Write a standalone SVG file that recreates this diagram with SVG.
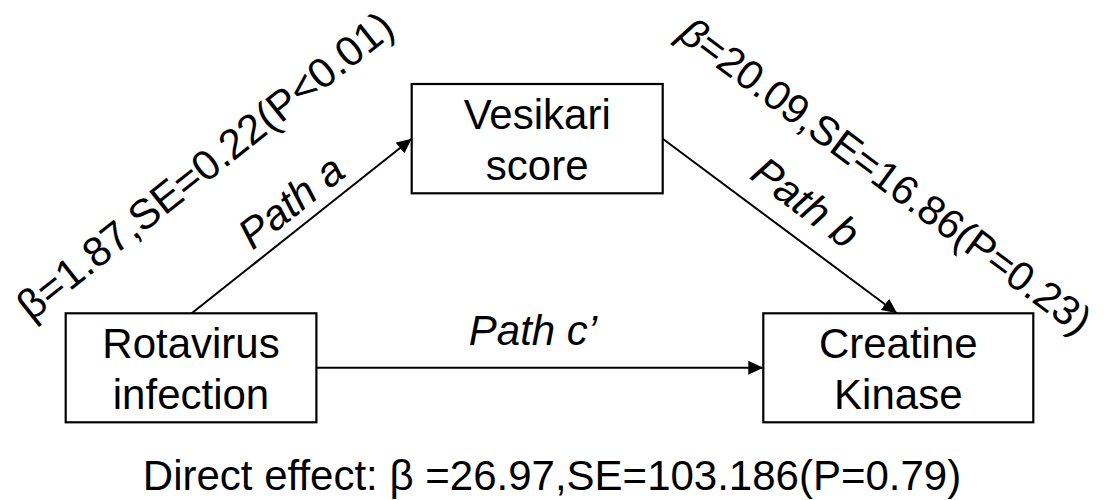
<svg xmlns="http://www.w3.org/2000/svg" width="1104" height="500" viewBox="0 0 1104 500">
<style>
.box{fill:#fff;stroke:#000;stroke-width:2.2}
.t{font-family:"Liberation Sans",Arial,sans-serif;font-size:42px;fill:#000;text-anchor:middle}
.i{font-style:italic}
.s{font-size:41px}
.edge{stroke:#000;stroke-width:2;fill:none;marker-end:url(#arr)}
</style>
<defs>
<marker id="arr" markerUnits="userSpaceOnUse" markerWidth="16" markerHeight="14" refX="15" refY="7" orient="auto">
<path d="M0,0 L15,7 L0,14 z" fill="#000"/>
</marker>
</defs>
<rect width="1104" height="500" fill="#fff"/>
<g id="connectors">
<line class="edge" x1="191.7" y1="313.3" x2="411.7" y2="138.7"/>
<line class="edge" x1="662.7" y1="138.7" x2="897" y2="313.3"/>
<line class="edge" x1="316.4" y1="367.8" x2="763.3" y2="367.8"/>
<text class="t i" transform="translate(300,213) rotate(-38.45)">Path a</text>
<text class="t i" transform="translate(797,214) rotate(36.6)">Path b</text>
<text class="t i" x="533" y="345">Path c’</text>
<text class="t" transform="translate(214,177) rotate(-38.45)">β=1.87,SE=0.22(P&lt;0.01)</text>
<text class="t s" transform="translate(877,187) rotate(36.6)"><tspan class="i">β</tspan>=20.09,SE=16.86(P=0.23)</text>
</g>
<g id="vesikari">
<rect class="box" x="411.7" y="84" width="251" height="109.3"/>
<text class="t" x="537.2" y="129.3">Vesikari</text>
<text class="t" x="537.2" y="180.3">score</text>
</g>
<g id="rotavirus">
<rect class="box" x="65.7" y="313.3" width="250.7" height="109"/>
<text class="t" x="191" y="358">Rotavirus</text>
<text class="t" x="191" y="409">infection</text>
</g>
<g id="creatine">
<rect class="box" x="763.3" y="313.3" width="270" height="109"/>
<text class="t" x="898.3" y="358">Creatine</text>
<text class="t" x="898.3" y="409">Kinase</text>
</g>
<g id="footer">
<text class="t" x="552" y="490">Direct effect: β =26.97,SE=103.186(P=0.79)</text>
</g>
</svg>
